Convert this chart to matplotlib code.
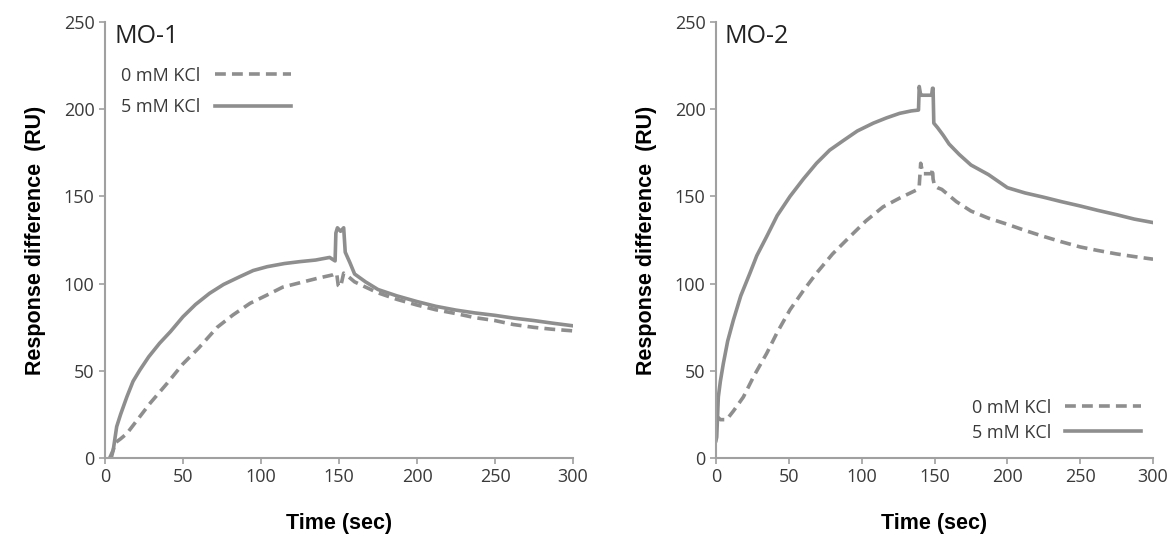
import matplotlib.pyplot as plt

# MO-1 data (time in sec, response in RU)
mo1_t_0 = [4, 6.4, 10, 14, 20, 29, 40, 50, 60, 72, 82, 93, 104, 114, 125, 136, 146, 148.5, 149.5, 151, 153,
           156, 160, 167, 175, 187, 200, 212, 225, 237, 250, 262, 275, 287, 300]
mo1_r_0 = [0, 8.6, 11, 14, 21, 31.5, 43, 54, 63, 75, 82, 88.7, 93.5, 98, 100.5, 103, 105, 106, 99, 98, 106,
           104, 101, 98, 94.7, 91, 87.7, 85, 82.8, 80.5, 78.8, 76.5, 74.9, 73.8, 72.9]
mo1_t_5 = [3, 5.3, 7.5, 10, 14, 18, 22.4, 28, 35, 42, 50, 58, 67, 76, 86.5, 95, 104, 115, 125, 135, 144,
           147.5, 148, 149, 151, 153, 154, 155, 157, 160, 167, 175, 187, 200, 212, 225, 237, 250, 262,
           275, 287, 300]
mo1_r_5 = [0, 4.6, 18, 25, 35, 44, 50.5, 58, 65.8, 72.5, 81, 88, 94.4, 99.5, 104, 107.5, 109.7, 111.5,
           112.6, 113.5, 115, 113, 129, 132, 130, 132, 118, 116, 112, 105.5, 101, 96.6, 93, 89.7, 87,
           84.8, 83.2, 81.8, 80.2, 78.8, 77.3, 75.8]

# MO-2 data
mo2_t_0 = [0, 0.5, 3, 7.3, 12, 18.8, 26, 34.8, 42, 50.8, 60, 69, 80, 92, 103, 114.7, 126, 137.7, 139.5,
           140.5, 142, 146, 148, 148.6, 149, 150, 152, 155, 165, 175, 187, 200, 212, 225, 237, 250, 262,
           275, 287, 300]
mo2_r_0 = [25, 24, 22, 22, 27, 35, 47, 60, 72, 85, 96, 106, 117, 127, 136, 144, 149, 153.7, 156, 169, 163,
           163, 163, 166, 160, 156, 155, 154, 147, 141.6, 137.5, 134, 130.5, 127, 124, 121, 119, 117,
           115.5, 114]
mo2_t_5 = [0, 0.5, 1.6, 3, 5, 8, 11.9, 17, 23.3, 28, 34.8, 42, 50.8, 60, 69, 78, 87.4, 97, 108, 117, 126,
           134, 139, 139.5, 140.5, 142, 146, 148, 148.6, 149, 149.5, 152, 156, 160, 167, 175, 187, 200,
           212, 225, 237, 250, 262, 275, 287, 300]
mo2_r_5 = [10, 12, 35, 44, 54, 67, 79, 93, 106, 116, 127, 139, 150, 160, 169, 176.5, 182, 187.5, 192, 195,
           197.6, 199, 199.5, 213, 208, 208, 208, 208, 212, 212, 192, 189.5, 185, 180, 174, 168, 162.5,
           155, 152, 149.5, 147, 144.5, 142, 139.5, 137, 135]

panels = ['MO-1', 'MO-2']
legend_labels = ['0 mM KCl', '5 mM KCl']
x_ticks = [0, 50, 100, 150, 200, 250, 300]
y_ticks = [0, 50, 100, 150, 200, 250]

grey = '#8e8e8e'
tick_col = '#3a3a3a'

fig = plt.figure(figsize=(11.73, 5.36), dpi=100)
ax1 = fig.add_axes([0.0895, 0.1455, 0.399, 0.8135])
ax2 = fig.add_axes([0.6104, 0.1455, 0.3726, 0.8135])

data = [(mo1_t_0, mo1_r_0, mo1_t_5, mo1_r_5), (mo2_t_0, mo2_r_0, mo2_t_5, mo2_r_5)]

for ax, name, (t0, r0, t5, r5) in zip([ax1, ax2], panels, data):
    ax.plot(t0, r0, color=grey, lw=2.6, ls=(0, (3.0, 1.7)), label=legend_labels[0])
    ax.plot(t5, r5, color=grey, lw=2.6, label=legend_labels[1])
    ax.set_xlim(0, 300)
    ax.set_ylim(0, 250)
    ax.set_xticks(x_ticks)
    ax.set_yticks(y_ticks)
    for s in ['top', 'right']:
        ax.spines[s].set_visible(False)
    for s in ['left', 'bottom']:
        ax.spines[s].set_color('#a0a0a0')
        ax.spines[s].set_linewidth(1.5)
    ax.tick_params(colors='#a0a0a0', length=4, width=1.2, labelcolor=tick_col, labelsize=13)
    for lab in ax.get_xticklabels() + ax.get_yticklabels():
        lab.set_family('Open Sans')
    ax.set_xlabel('Time (sec)', fontsize=15.5, fontweight='bold', family='Liberation Sans', labelpad=19)
    ax.set_ylabel('Response difference  (RU)', fontsize=15.5, fontweight='bold', family='Liberation Sans',
                  labelpad=13)
    ax.text(0.02, 0.995, name, transform=ax.transAxes, fontsize=18, family='Open Sans',
            va='top', ha='left', color='#222222')

leg1 = ax1.legend(loc='upper left', bbox_to_anchor=(0.0, 0.935), frameon=False, markerfirst=False,
                  handlelength=4.2, labelspacing=0.75, prop={'family': 'Open Sans', 'size': 13})
leg2 = ax2.legend(loc='lower right', bbox_to_anchor=(1.01, 0.0), frameon=False, markerfirst=False,
                  handlelength=4.2, labelspacing=0.4, prop={'family': 'Open Sans', 'size': 13})
for leg in [leg1, leg2]:
    for t in leg.get_texts():
        t.set_color(tick_col)

fig.savefig('out.png', dpi=100)
